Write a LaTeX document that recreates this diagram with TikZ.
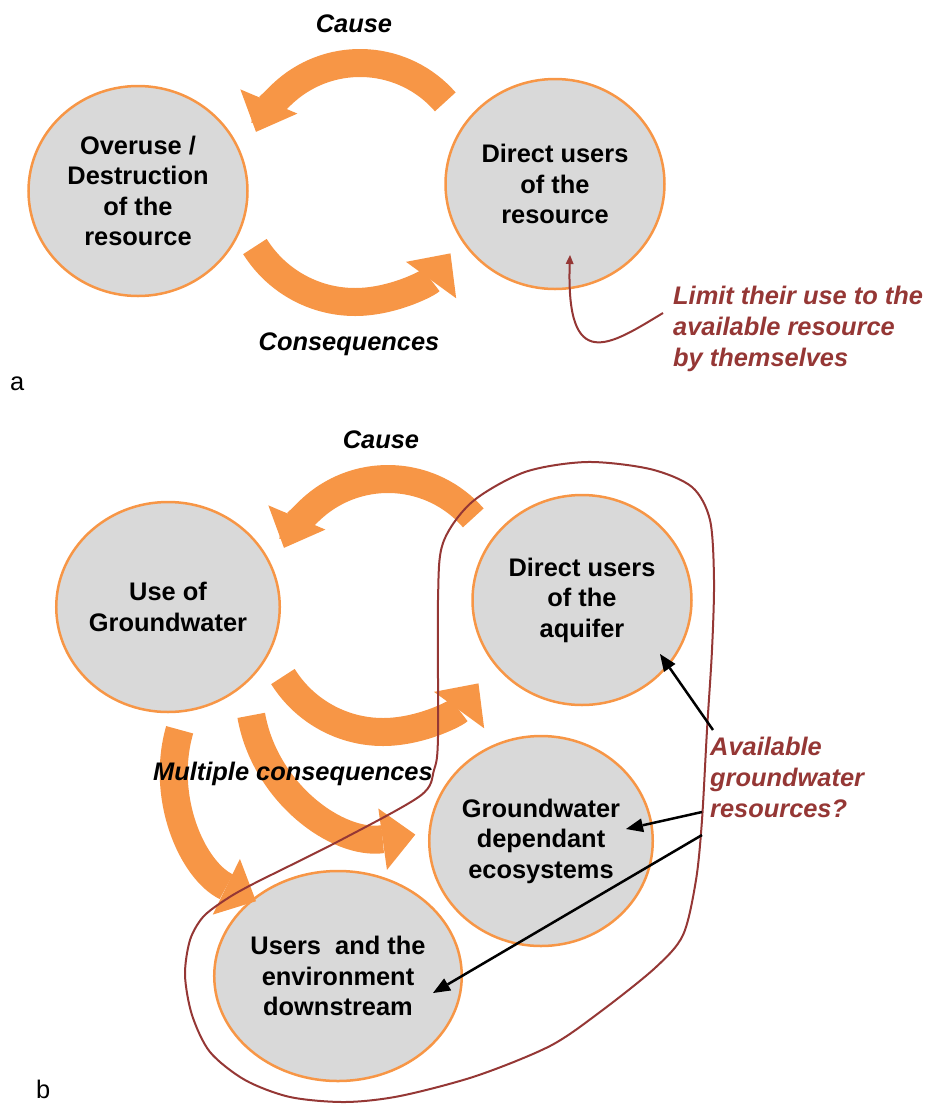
\documentclass[tikz,border=0pt]{standalone}
\usepackage{fontspec}
\setmainfont{Liberation Sans}
\usetikzlibrary{shapes.geometric,arrows.meta,calc}
\definecolor{orng}{RGB}{247,150,70}
\definecolor{bubblefill}{RGB}{217,217,217}
\definecolor{wine}{RGB}{149,55,53}

\begin{document}
\begin{tikzpicture}[x=1pt,y=1pt,
  bubble/.style={ellipse, draw=orng, line width=2.5pt, fill=bubblefill,
    minimum width=219pt, minimum height=210pt, inner sep=0pt, align=center,
    font=\bfseries\fontsize{25.4}{30.5}\selectfont},
  blockarrow/.style={draw=orng, line width=28pt,
    -{Triangle[width=62pt,length=33pt,line width=0pt]}},
  caption/.style={inner sep=0pt, font=\bfseries\itshape\fontsize{25.4}{30.5}\selectfont},
  note/.style={inner sep=0pt, align=left, text=wine,
    font=\bfseries\itshape\fontsize{25.4}{31}\selectfont},
  pointer/.style={draw=black, line width=2.5pt,
    -{Triangle[width=14pt,length=17pt,line width=0pt]}},
  panel/.style={inner sep=0pt, font=\fontsize{25.4}{30.5}\selectfont}]

\useasboundingbox (0,0) rectangle (929,-1104);

% ---------------- panel a ----------------
\node[bubble] (over) at (138,-191) {Overuse /\\Destruction\\of the\\resource};
\node[bubble] (dira) at (555,-184) {Direct users\\of the\\resource};

\coordinate (ca) at (360,-176);
\coordinate (qa) at (355,-184);
\draw[blockarrow] ($(ca)+(41:113)$) arc[start angle=41, end angle=157, radius=113];
\draw[blockarrow] ($(qa)+(212:118)$) arc[start angle=212, end angle=324, radius=118];

\node[caption, anchor=base] (causea) at (354,-32) {Cause};
\node[caption, anchor=base] (conseqa) at (349,-350) {Consequences};

% multi-line notes are anchored at the baseline of their last line
\node[note, anchor=base west] (limit) at (673,-366)
  {Limit their use to the\\available resource\\by themselves};
\coordinate (limstart) at (663,-313);
\coordinate (limend) at (570,-255);
\draw[wine, line width=2pt, -{Triangle[width=8pt,length=9pt,line width=0pt]}]
  (limstart) .. controls (610,-345) and (566,-375) .. (limend);

\node[panel, anchor=base west] (laba) at (10,-390) {a};

% ---------------- panel b ----------------
\node[bubble] (use) at (168,-607) {Use of\\Groundwater};
\node[bubble] (dirb) at (582,-600) {Direct users\\of the\\aquifer};
\node[bubble] (gde) at (541,-841) {Groundwater\\dependant\\ecosystems};
\node[bubble] (down) at (338,-976) {Users\ \ and the\\environment\\downstream};

\coordinate (cb) at (388,-592);
\coordinate (qb) at (383,-614);
\coordinate (m2) at (395,-690);
\coordinate (m3) at (320,-770);
\draw[blockarrow] ($(cb)+(41:113)$) arc[start angle=41, end angle=157, radius=113];
\draw[blockarrow] ($(qb)+(212:118)$) arc[start angle=212, end angle=324, radius=118];
\draw[blockarrow] ($(m2)+(190:146)$) arc[start angle=190, end angle=278, radius=146];
\draw[blockarrow] ($(m3)+(164:146)$) arc[start angle=164, end angle=244, radius=146];

\node[caption, anchor=base] (causeb) at (381,-448) {Cause};
\node[caption, anchor=base west] (multi) at (153,-780) {Multiple consequences};

% boundary around the resource-dependent users
\draw[wine, line width=2pt] plot[smooth cycle] coordinates {
  (587,-462) (650,-469) (692,-487) (710,-520) (714,-580) (712,-650)
  (707,-730) (702,-820) (696,-880) (683,-935) (655,-968) (600,-1012)
  (550,-1046) (476,-1076) (400,-1096) (345,-1102) (290,-1097) (245,-1080)
  (210,-1052) (192,-1015) (185,-975) (190,-940) (203,-917) (225,-900)
  (253,-884) (337,-842) (420,-796) (434,-770) (438,-737) (438,-600)
  (443,-543) (472,-502) (525,-472)};

\node[note, anchor=base west] (avail) at (710,-817)
  {Available\\groundwater\\resources?};
\coordinate (p1) at (713,-730);
\coordinate (p2) at (702,-812);
\coordinate (p3) at (702,-835);
\coordinate (t1) at (660,-654);
\coordinate (t2) at (626,-829);
\coordinate (t3) at (433,-993);
\draw[pointer] (p1) -- (t1);
\draw[pointer] (p2) -- (t2);
\draw[pointer] (p3) -- (t3);

\node[panel, anchor=base west] (labb) at (36,-1098) {b};
\end{tikzpicture}
\end{document}
